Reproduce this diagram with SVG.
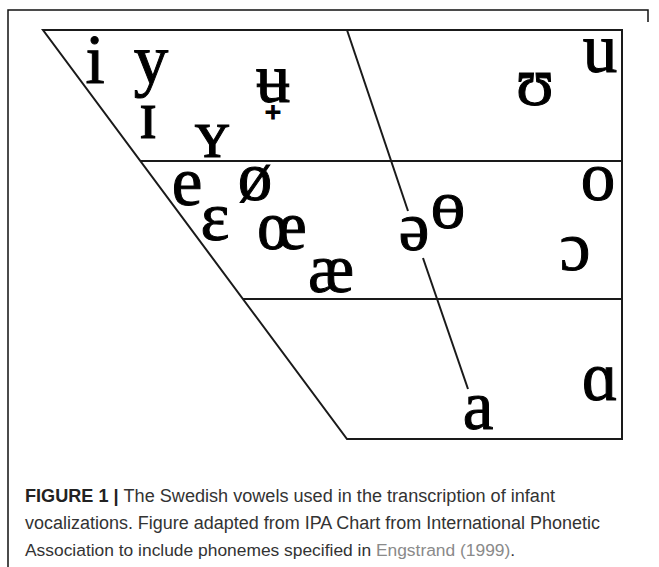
<svg xmlns="http://www.w3.org/2000/svg" width="659" height="567" viewBox="0 0 659 567">
<style>
.frame{fill:none;stroke:#111;stroke-width:1.5}
.ln{fill:none;stroke:#1a1a1a;stroke-width:2}
.v{font-family:"Liberation Serif","DejaVu Serif",serif;font-size:69px;fill:#000;stroke:#000;stroke-width:1;text-anchor:middle}
.cap{font-family:"Liberation Sans",Arial,sans-serif;font-size:18px;fill:#333}
.b{font-weight:bold;fill:#222}
.ref{fill:#8a8a8a}
</style>
<rect width="659" height="567" fill="#fff"/>
<path class="frame" d="M648,22 V10 H8 V567"/>
<g id="connectors">
<path class="ln" d="M43,30 H622 V439 H347 Z"/>
<path class="ln" d="M140,161 H622"/>
<path class="ln" d="M243,299 H622"/>
<path class="ln" d="M347,30 L408,211"/>
<path class="ln" d="M423,258 L468,389"/>
</g>
<g id="v-i"><text class="v" x="95" y="83">i</text></g>
<g id="v-y"><text class="v" x="151" y="83">y</text></g>
<g id="v-I"><text class="v" x="148" y="138">ɪ</text></g>
<g id="v-Y"><text class="v" x="212" y="157">ʏ</text></g>
<g id="v-u-bar"><text class="v" x="273" y="102">ʉ</text><text class="v" x="273" y="119" style="font-size:22px;font-family:'DejaVu Sans',sans-serif;font-weight:bold">+</text></g>
<g id="v-upsilon"><text class="v" x="535" y="105">ʊ</text></g>
<g id="v-u"><text class="v" x="600" y="72">u</text></g>
<g id="v-e"><text class="v" x="187" y="205">e</text></g>
<g id="v-oslash"><text class="v" x="255" y="200">ø</text></g>
<g id="v-epsilon"><text class="v" x="215" y="240">ɛ</text></g>
<g id="v-oe"><text class="v" x="282" y="249">œ</text></g>
<g id="v-ae"><text class="v" x="331" y="292">æ</text></g>
<g id="v-schwa"><text class="v" x="414" y="250">ə</text></g>
<g id="v-obar"><text class="v" x="448" y="228">ɵ</text></g>
<g id="v-o"><text class="v" x="598" y="200">o</text></g>
<g id="v-open-o"><text class="v" x="575" y="270">ɔ</text></g>
<g id="v-a"><text class="v" x="478" y="429">a</text></g>
<g id="v-alpha"><text class="v" x="600" y="400">ɑ</text></g>
<g id="caption">
<text class="cap" x="25" y="502" textLength="530" lengthAdjust="spacingAndGlyphs"><tspan class="b">FIGURE 1 | </tspan>The Swedish vowels used in the transcription of infant</text>
<text class="cap" x="25" y="529" textLength="575" lengthAdjust="spacingAndGlyphs">vocalizations. Figure adapted from IPA Chart from International Phonetic</text>
<text class="cap" x="25" y="556" style="font-size:17.4px">Association to include phonemes specified in <tspan class="ref">Engstrand (1999)</tspan>.</text>
</g>
</svg>
